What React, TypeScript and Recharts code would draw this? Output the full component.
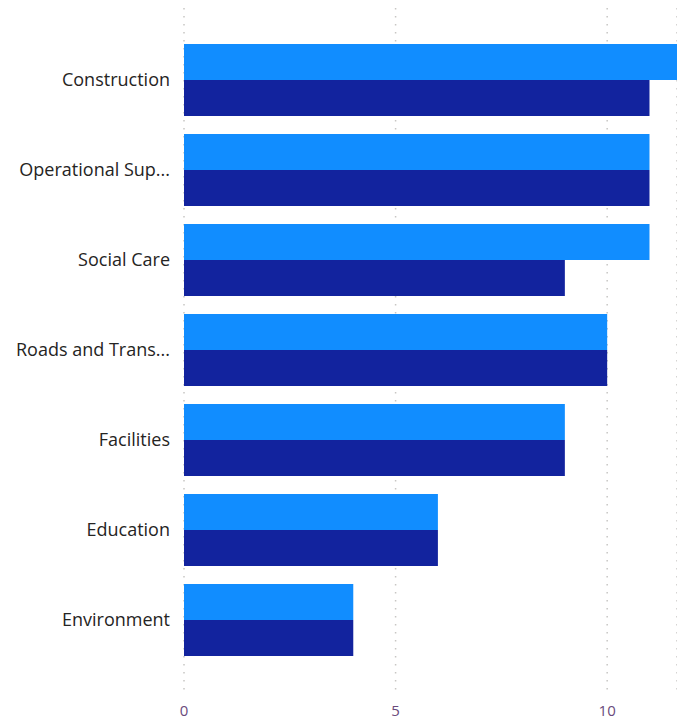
import { BarChart, Bar, XAxis, YAxis, CartesianGrid } from 'recharts';

const categories = [
  'Construction',
  'Operational Support',
  'Social Care',
  'Roads and Transport',
  'Facilities',
  'Education',
  'Environment',
];
const lightValues = [12, 11, 11, 10, 9, 6, 4];
const darkValues = [11, 11, 9, 10, 9, 6, 4];
const xTicks = [0, 5, 10];

const data = categories.map((name, i) => ({ name, light: lightValues[i], dark: darkValues[i] }));

// Power BI style truncation of long category labels
const shorten = (s: string) => (s.length > 15 ? s.slice(0, 15) + '...' : s);

export default function App() {
  return (
    <div>
      <style>{'body{margin:0;overflow:hidden}'}</style>
      <BarChart
        width={677}
        height={719}
        data={data}
        layout="vertical"
        margin={{ top: 8, right: 0, left: 0, bottom: 0 }}
        barCategoryGap="10%"
        barGap={0}
      >
        <CartesianGrid vertical horizontal={false} stroke="#c8c6c4" strokeDasharray="1.5 6.5" strokeWidth={1.5} />
        <XAxis
          type="number"
          domain={[0, 11.65]}
          ticks={xTicks}
          allowDataOverflow
          axisLine={false}
          tickLine={false}
          height={24}
          tickMargin={4}
          tick={{ fill: '#6a4a7c', fontSize: 15, fontFamily: 'Open Sans' }}
        />
        <YAxis
          type="category"
          dataKey="name"
          width={184}
          axisLine={false}
          tickLine={false}
          tickMargin={8}
          padding={{ top: 27, bottom: 30 }}
          tickFormatter={shorten}
          tick={{ fill: '#252423', fontSize: 18, fontFamily: 'Open Sans' }}
        />
        <Bar dataKey="light" fill="#118DFF" isAnimationActive={false} />
        <Bar dataKey="dark" fill="#12239E" isAnimationActive={false} />
      </BarChart>
    </div>
  );
}
